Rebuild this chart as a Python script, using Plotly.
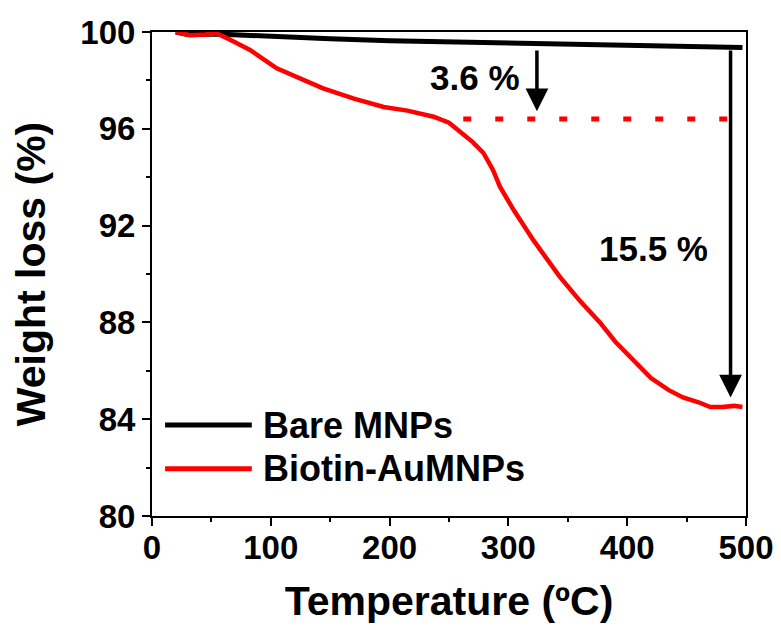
import plotly.graph_objects as go

# Data
bare_x = [20, 30, 54, 100, 150, 200, 284, 350, 400, 450, 497]
bare_y = [100.0, 99.9, 99.92, 99.8, 99.72, 99.64, 99.55, 99.48, 99.44, 99.4, 99.36]

bio_x = [20, 25, 32, 45, 54, 65, 82.5, 105, 125, 144, 170, 195, 215, 237, 250, 262,
         270, 279, 287, 293, 305, 321, 343, 360, 377, 390, 405, 420, 435, 447, 460,
         470, 480, 490, 497]
bio_y = [100.0, 99.95, 99.87, 99.9, 99.95, 99.7, 99.26, 98.5, 98.05, 97.67, 97.25,
         96.9, 96.75, 96.5, 96.25, 95.8, 95.45, 95.0, 94.3, 93.6, 92.6, 91.4, 89.9,
         88.9, 88.0, 87.2, 86.45, 85.7, 85.2, 84.9, 84.7, 84.5, 84.5, 84.55, 84.5]

plateau_x = [262, 487]
plateau_y = [96.4, 96.4]

series_names = ["Bare MNPs", "Biotin-AuMNPs"]
series_colors = ["#000000", "#FF0000"]

arrow1 = dict(x=324, y_from=99.3, y_to=96.73, label="3.6 %", lx=272, ly=98.1)
arrow2 = dict(x=487, y_from=99.3, y_to=84.9, label="15.5 %", lx=422, ly=91.07)

x_ticks = [0, 100, 200, 300, 400, 500]
y_ticks = [80, 84, 88, 92, 96, 100]

FONT = "Liberation Sans, Arial, sans-serif"

fig = go.Figure()
fig.add_trace(go.Scatter(x=bare_x, y=bare_y, mode="lines", name=series_names[0],
                         line=dict(color=series_colors[0], width=5), showlegend=False))
fig.add_trace(go.Scatter(x=bio_x, y=bio_y, mode="lines", name=series_names[1],
                         line=dict(color=series_colors[1], width=4.5), showlegend=False))
fig.add_trace(go.Scatter(x=plateau_x, y=plateau_y, mode="lines", showlegend=False,
                         line=dict(color=series_colors[1], width=5, dash="8px,24px")))

annotations = []
for a in (arrow1, arrow2):
    annotations.append(dict(x=a["x"], y=a["y_to"], ax=a["x"], ay=a["y_from"],
                            xref="x", yref="y", axref="x", ayref="y", text="",
                            showarrow=True, arrowhead=2, arrowsize=1.3, arrowwidth=3.5,
                            arrowcolor="#000000", standoff=0))
    annotations.append(dict(x=a["lx"], y=a["ly"], xref="x", yref="y", text=a["label"],
                            showarrow=False, font=dict(family=FONT, size=35, color="#000",
                                                       weight="bold")))

# custom legend
legend_rows = [83.76, 81.95]
shapes = []
for name, color, yy in zip(series_names, series_colors, legend_rows):
    shapes.append(dict(type="line", xref="x", yref="y", x0=11, x1=84, y0=yy, y1=yy,
                       line=dict(color=color, width=5)))
    annotations.append(dict(x=92, y=yy, xref="x", yref="y", text=name, showarrow=False,
                            xanchor="left", yanchor="middle",
                            font=dict(family=FONT, size=36, color="#000", weight="bold")))

axis_common = dict(showline=True, linecolor="#000", linewidth=2, mirror=True,
                   ticks="outside", ticklen=8, tickwidth=2, tickcolor="#000",
                   showgrid=False, zeroline=False, automargin=False,
                   tickfont=dict(family=FONT, size=33, color="#000", weight="bold"))

# the page body has an 8px margin, so the figure is sized/offset to compensate
fig.update_layout(
    width=773, height=622,
    margin=dict(l=144, r=35, t=24, b=114),
    plot_bgcolor="white", paper_bgcolor="white",
    showlegend=False,
    shapes=shapes, annotations=annotations,
    xaxis=dict(range=[0, 500], tickvals=x_ticks, ticklabelstandoff=-7,
               minor=dict(tickvals=[50, 150, 250, 350, 450], ticks="outside", ticklen=4,
                          tickwidth=2, tickcolor="#000"),
               title=dict(text="Temperature (ºC)", standoff=22,
                          font=dict(family=FONT, size=41, color="#000", weight="bold")),
               **axis_common),
    yaxis=dict(range=[80, 100], tickvals=y_ticks,
               minor=dict(tickvals=[82, 86, 90, 94, 98], ticks="outside", ticklen=4,
                          tickwidth=2, tickcolor="#000"),
               title=dict(text="Weight loss (%)", standoff=24,
                          font=dict(family=FONT, size=41, color="#000", weight="bold")),
               **axis_common),
)

fig.write_html("out.html")
